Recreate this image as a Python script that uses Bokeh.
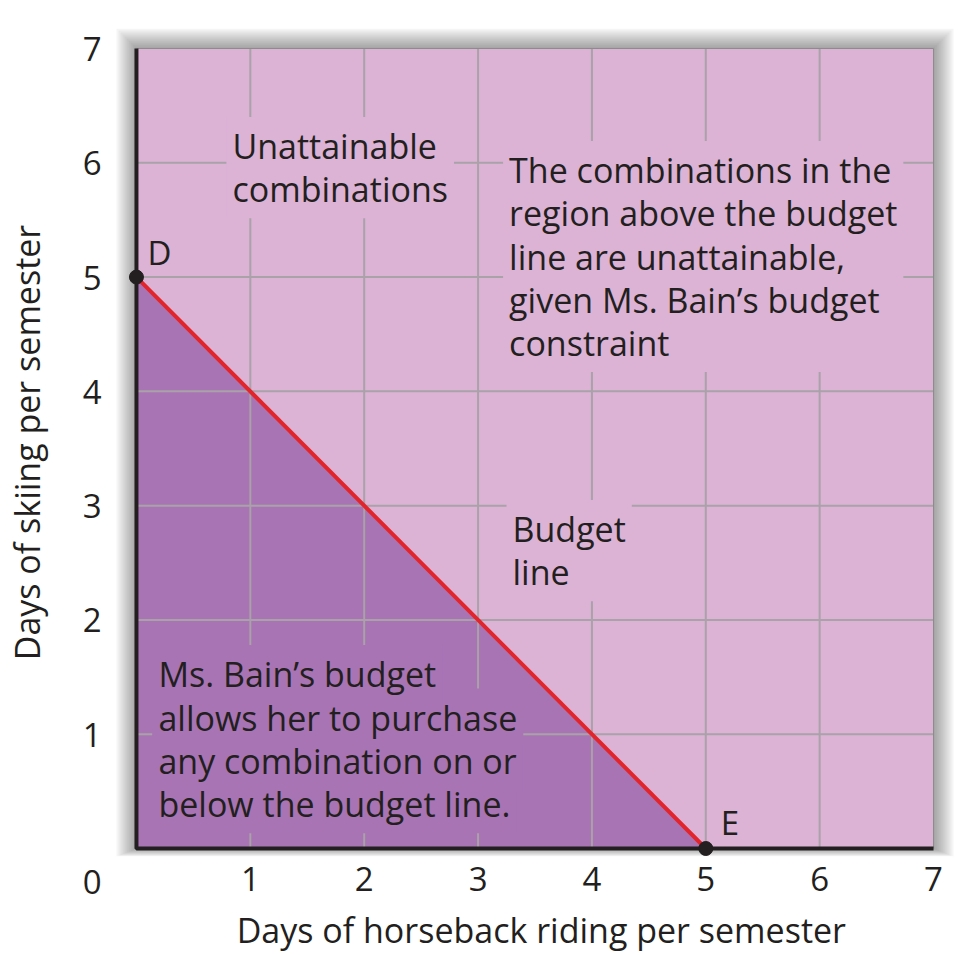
from bokeh.plotting import figure
from bokeh.models import Range1d, FixedTicker
from bokeh.embed import file_html
from bokeh.resources import INLINE
from bokeh.core.properties import value

# ---- data ----
x_ticks = [1, 2, 3, 4, 5, 6, 7]
y_ticks = [0, 1, 2, 3, 4, 5, 6, 7]
y_tick_labels = {0: "\n0"}          # shared origin label, sits below-left of the corner
budget_x = [0, 5]          # days of horseback riding
budget_y = [5, 0]          # days of skiing
point_names = ["D", "E"]
x_max = 7
y_max = 7

pink_texts = ["Unattainable\ncombinations",
              "The combinations in the\nregion above the budget\nline are unattainable,\ngiven Ms. Bain\u2019s budget\nconstraint",
              "Budget\nline"]
pink_text_x = [0.79, 3.22, 3.25]
pink_text_y = [6.40, 6.19, 3.05]
purple_texts = ["Ms. Bain\u2019s budget",
                "allows her to purchase",
                "any combination on or",
                "below the budget line."]
purple_text_x = [0.14, 0.14, 0.14, 0.14]
purple_text_y = [1.78, 1.40, 1.02, 0.64]

PINK = "#dcb3d5"
PURPLE = "#a874b4"
RED = "#e2242b"
INK = "#231f20"
GRID = "#a9a2a8"
FONT = "Open Sans"
NB = "\u00a0"

p = figure(width=962, height=955,
           x_range=Range1d(-0.2368, 7.193), y_range=Range1d(-0.07, 7.175),
           output_backend="svg", toolbar_location=None,
           min_border_left=108, min_border_right=7, min_border_top=28, min_border_bottom=99)
p.background_fill_color = "white"
p.border_fill_color = "white"
p.outline_line_color = None
p.grid.visible = False

for ax, ticks in ((p.xaxis, x_ticks), (p.yaxis, y_ticks)):
    ax.ticker = FixedTicker(ticks=ticks)
    ax.axis_line_color = None
    ax.major_tick_line_color = None
    ax.minor_tick_line_color = None
    ax.major_tick_out = 0
    ax.major_tick_in = 0
    ax.major_label_text_font = FONT
    ax.major_label_text_font_size = "33px"
    ax.major_label_text_color = INK
    ax.axis_label_text_font = FONT
    ax.axis_label_text_font_size = "34px"
    ax.axis_label_text_font_style = "normal"
    ax.axis_label_text_color = INK

p.yaxis.major_label_overrides = y_tick_labels
p.yaxis.major_label_text_line_height = 1.47
p.xaxis.axis_label = NB * 2 + "Days of horseback riding per semester"
p.yaxis.axis_label = "Days of skiing per semester"
p.xaxis.major_label_standoff = 10
p.yaxis.major_label_standoff = 8
p.xaxis.axis_label_standoff = 13
p.yaxis.axis_label_standoff = 30

# soft drop shadow around the chart panel
for k in range(1, 11):
    ex = 2 * k / 114.0
    et = 2 * k / 114.3
    eb = 0.8 * k / 114.3
    p.quad(left=[0 - ex], right=[x_max + ex], bottom=[0 - eb], top=[y_max + et],
           fill_color="black", fill_alpha=0.04, line_color=None)

# chart panel (unattainable area) and attainable region below the budget line
p.quad(left=[0], right=[x_max], bottom=[0], top=[y_max], fill_color=PINK, line_color=None)
p.patch([0] + budget_x, [0] + budget_y, fill_color=PURPLE, line_color=None)

# grid lines inside the panel
p.segment(x0=x_ticks[:-1], y0=0, x1=x_ticks[:-1], y1=y_max, line_color=GRID, line_width=2)
p.segment(x0=0, y0=y_ticks[1:-1], x1=x_max, y1=y_ticks[1:-1], line_color=GRID, line_width=2)
# thin panel edge (top / right)
p.line([0, x_max, x_max], [y_max, y_max, 0], line_color="#8c8c8c", line_width=1)
# heavy axis lines
p.line([0, 0, x_max], [y_max, 0, 0], line_color=INK, line_width=4)

# text blocks with opaque backgrounds (hide grid lines)
p.text(x=pink_text_x, y=pink_text_y, text=pink_texts, text_font=value(FONT),
       text_font_size="34px", text_color=INK, text_baseline="top", text_align="left",
       text_line_height=0.94, background_fill_color=PINK, padding=6)
# drawn bottom line first so each line's descenders stay above the next line's background
p.text(x=purple_text_x[::-1], y=purple_text_y[::-1], text=purple_texts[::-1], text_font=value(FONT),
       text_font_size="34px", text_color=INK, text_baseline="top", text_align="left",
       background_fill_color=PURPLE, padding=6)

# budget line
p.line(budget_x, budget_y, line_color=RED, line_width=4)

# endpoints
p.scatter(budget_x, budget_y, size=14, fill_color=INK, line_color=INK)
p.text(x=budget_x, y=budget_y, text=point_names, text_font=value(FONT), text_font_size="33px",
       text_color=INK, text_baseline="middle", text_align="left",
       x_offset=[11, 15], y_offset=[-25, -26])

open("out.html", "w").write(file_html(p, INLINE))
